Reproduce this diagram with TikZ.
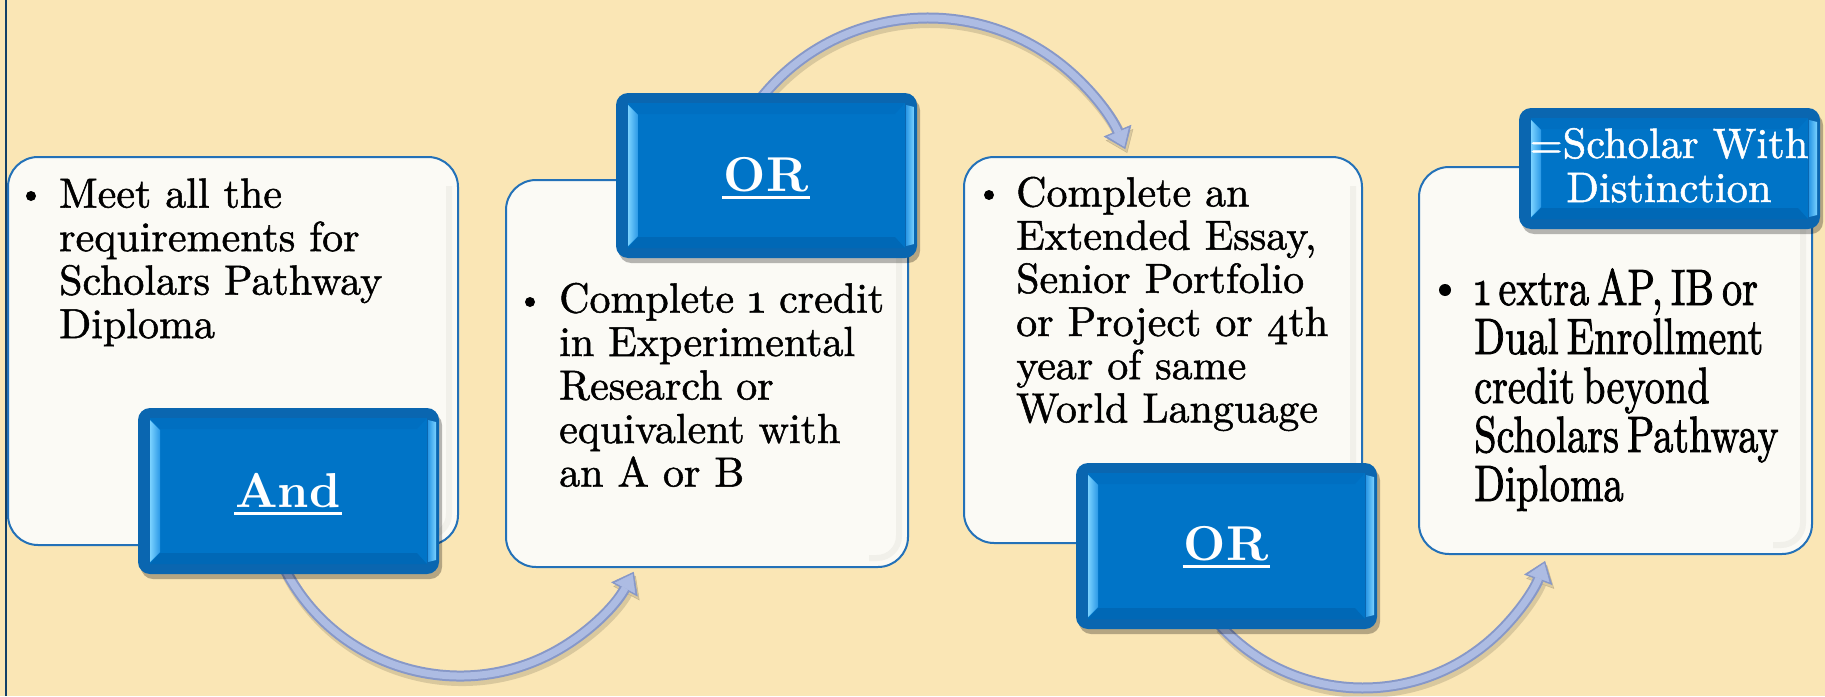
\documentclass[tikz,border=0pt]{standalone}
\usepackage{fontspec}
\setmainfont{lmroman10-regular.otf}[BoldFont=lmroman10-bold.otf]
\newfontfamily\bodyfont{lmroman10-regular.otf}[FakeBold=1.2]
\newfontfamily\denseFont{lmroman10-regular.otf}[FakeBold=1.8]
\usepackage{graphicx}
\usetikzlibrary{arrows.meta,calc}
\definecolor{bg}{HTML}{FAE6B5}
\definecolor{edgeline}{HTML}{123F66}
\definecolor{cardline}{HTML}{2371B8}
\definecolor{cardfill}{HTML}{FBFAF5}
\definecolor{cardshade}{HTML}{F1F0EA}
\definecolor{btnouter}{HTML}{0A66B0}
\definecolor{btnface}{HTML}{0074C7}
\definecolor{btntop}{HTML}{006FC1}
\definecolor{btnbot}{HTML}{0068B6}
\definecolor{bevlight}{HTML}{7AD2FF}
\definecolor{bevmid}{HTML}{2A98E6}
\definecolor{arrowlight}{HTML}{ADBCE3}
\definecolor{arrowdark}{HTML}{8798C8}
\newcommand\mybtn[5]{%
  \fill[black,opacity=.28,rounded corners=12pt] ({#2+3},{#3+5}) rectangle ({#4+3},{#5+5});
  \fill[btnouter,rounded corners=12pt] ({#2},{#3}) rectangle ({#4},{#5});
  \fill[btnface] ({#2+12},{#3+10}) rectangle ({#4-12},{#5-10});
  \fill[btntop] ({#2+12},{#3+10}) -- ({#4-12},{#3+10}) -- ({#4-22},{#3+21}) -- ({#2+22},{#3+21}) -- cycle;
  \fill[btnbot] ({#2+12},{#5-10}) -- ({#4-12},{#5-10}) -- ({#4-22},{#5-21}) -- ({#2+22},{#5-21}) -- cycle;
  \shade[left color=bevlight,right color=bevmid] ({#2+12},{#3+12}) -- ({#2+22},{#3+22}) -- ({#2+22},{#5-22}) -- ({#2+12},{#5-12}) -- cycle;
  \shade[left color=bevmid,right color=bevlight] ({#4-11},{#3+12}) -- ({#4-3},{#3+14}) -- ({#4-3},{#5-14}) -- ({#4-11},{#5-12}) -- cycle;
  \coordinate (#1) at ({(#2+#4)/2},{(#3+#5)/2});
}
\tikzset{
  card/.style={draw=cardline,line width=2pt,fill=cardfill,rounded corners=30pt,inner sep=0pt},
  txt/.style={anchor=base west,inner sep=0pt,font=\bodyfont\fontsize{42}{43}\selectfont,text=black},
  bigtxt/.style={anchor=base west,inner sep=0pt,font=\denseFont\fontsize{51}{51}\selectfont,text=black},
  btntxt/.style={anchor=base,inner sep=0pt,font=\fontsize{49}{49}\selectfont\bfseries,text=white},
  scholtxt/.style={anchor=base,inner sep=0pt,font=\bodyfont\fontsize{42.5}{44}\selectfont,text=white},
  ularrow/.style={line width=11pt,draw=arrowdark,-{Triangle[length=20pt,width=30pt,line width=0.5pt]}},
  ularrowtop/.style={line width=7pt,draw=arrowlight,shorten >=2.5pt,-{Triangle[length=16pt,width=23pt,line width=0.5pt]}},
  ularrowshadow/.style={line width=12pt,draw=black,opacity=.13,-{Triangle[length=20pt,width=30pt,line width=0.5pt]}},
}
\begin{document}
\begin{tikzpicture}[x=1pt,y=-1pt]
\useasboundingbox (0,0) rectangle (1825,696);
\fill[bg] (0,0) rectangle (1825,696);
\draw[edgeline,line width=2.5pt] (6,0) -- (6,696);

% arc centres and start points
\coordinate (c1) at (460,479);
\coordinate (c2) at (928,232);
\coordinate (c3) at (1363,494);
\coordinate (s1) at ($(c1)+(152:197)$);
\coordinate (s2) at ($(c2)+(-142:214)$);
\coordinate (s3) at ($(c3)+(138:194)$);
\coordinate (s1sh) at ($(s1)+(2,4)$);
\coordinate (s2sh) at ($(s2)+(2,4)$);
\coordinate (s3sh) at ($(s3)+(2,4)$);

% arrows (behind boxes)
\draw[ularrowshadow] (s1sh) arc[start angle=152,end angle=28.1,radius=197];
\draw[ularrowshadow] (s2sh) arc[start angle=-142,end angle=-22.8,radius=214];
\draw[ularrowshadow] (s3sh) arc[start angle=138,end angle=20.2,radius=194];
\draw[ularrow] (s1) arc[start angle=152,end angle=28.1,radius=197];
\draw[ularrowtop] (s1) arc[start angle=152,end angle=28.1,radius=197];
\draw[ularrow] (s2) arc[start angle=-142,end angle=-22.8,radius=214];
\draw[ularrowtop] (s2) arc[start angle=-142,end angle=-22.8,radius=214];
\draw[ularrow] (s3) arc[start angle=138,end angle=20.2,radius=194];
\draw[ularrowtop] (s3) arc[start angle=138,end angle=20.2,radius=194];

% content cards
\node[card,minimum width=450pt,minimum height=388pt] (b1) at (233,351) {};
\node[card,minimum width=402pt,minimum height=387pt] (b2) at (707,373.5) {};
\node[card,minimum width=398pt,minimum height=386pt] (b3) at (1163,350) {};
\node[card,minimum width=393pt,minimum height=387pt] (b4) at (1615.5,360.5) {};
% faint inner shading along the right side of each card
\foreach \b in {b1,b2,b3,b4}
  \draw[cardshade,line width=6pt,rounded corners=22pt]
    ($(\b.north east)+(-10,30)$) -- ($(\b.south east)+(-10,-10)$) -- ($(\b.south east)+(-40,-10)$);

% buttons
\mybtn{and}{138}{408}{439}{574}
\mybtn{or1}{616}{93}{917}{258}
\mybtn{or2}{1076}{463}{1377}{629}
\mybtn{schol}{1519}{108}{1820}{229}

% button texts
\node[btntxt] (andt) at (288,507) {And};
\draw[white,line width=3pt] ($(andt.base west)+(-1,6)$) -- ($(andt.base east)+(1,6)$);
\node[btntxt] (or1t) at (766,191) {OR};
\draw[white,line width=3pt] ($(or1t.base west)+(-1,6)$) -- ($(or1t.base east)+(1,6)$);
\node[btntxt] (or2t) at (1226,560) {OR};
\draw[white,line width=3pt] ($(or2t.base west)+(-1,6)$) -- ($(or2t.base east)+(1,6)$);
\node[scholtxt] (sch1) at (1669,158) {=Scholar With};
\node[scholtxt] (sch2) at (1669,202) {Distinction};

% bullets
\fill[black] (31,196) circle (5);
\fill[black] (530,302) circle (5);
\fill[black] (989,195) circle (5);
\fill[black] (1445,290) circle (6);

% card texts
\foreach \t [count=\i from 0] in {Meet all the, requirements for, Scholars Pathway, Diploma}
  \node[txt] (t1\i) at ({59},{207.6+43.5*\i}) {\t};
\foreach \t [count=\i from 0] in {{Complete \oldstylenums{1} credit}, in Experimental, Research or, equivalent with, an A or B}
  \node[txt] (t2\i) at ({559},{312.5+43.5*\i}) {\t};
\foreach \t [count=\i from 0] in {Complete an, {Extended Essay,}, Senior Portfolio, {or Project or \oldstylenums{4}th}, year of same, World Language}
  \node[txt] (t3\i) at ({1016},{206.4+43.2*\i}) {\t};
\foreach \t [count=\i from 0] in {{\oldstylenums{1} extra AP, IB or}, Dual Enrollment, credit beyond, Scholars Pathway, Diploma}
  \node[bigtxt] (t4\i) at ({1474},{305+49*\i}) {\scalebox{0.79}[1]{\spaceskip=.2em\relax\t}};
\end{tikzpicture}
\end{document}
